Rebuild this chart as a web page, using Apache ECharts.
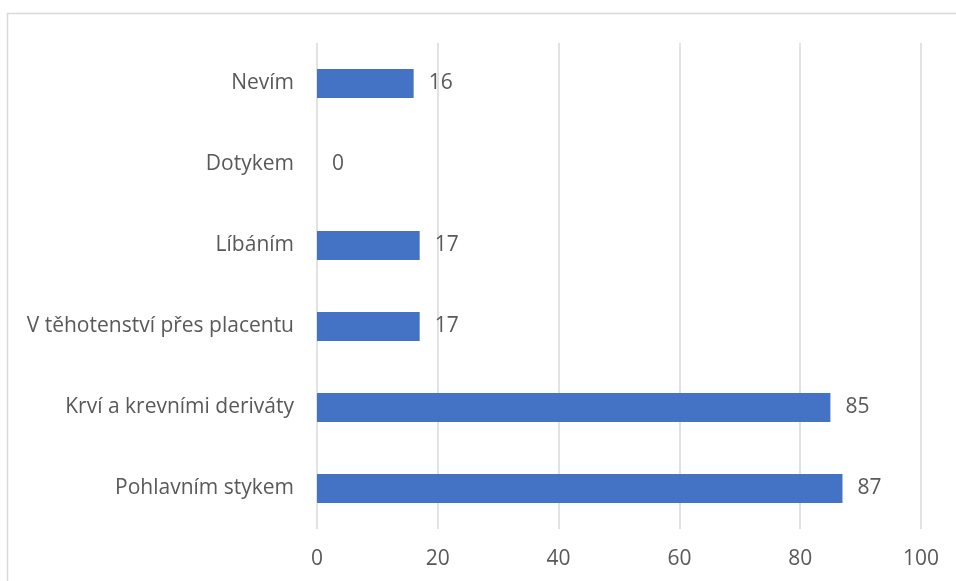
<!DOCTYPE html>
<html><head><meta charset="utf-8">
<script src="https://cdn.jsdelivr.net/npm/echarts@6/dist/echarts.min.js"></script>
<style>html,body{margin:0;padding:0;background:#fff}#c{width:956px;height:581px}</style>
</head><body><div id="c"></div>
<script>
const categories = ["Pohlavním stykem", "Krví a krevními deriváty", "V těhotenství přes placentu", "Líbáním", "Dotykem", "Nevím"];
const values = [87, 85, 17, 17, 0, 16];
const xTicks = [0, 20, 40, 60, 80, 100];

const font = "'Open Sans', 'Noto Sans', sans-serif";
const chart = echarts.init(document.getElementById('c'));
chart.setOption({
  animation: false,
  backgroundColor: '#fff',
  graphic: [{
    type: 'rect', shape: {x: 7.5, y: 13.5, width: 960, height: 600},
    style: {fill: 'none', stroke: '#D9D9D9', lineWidth: 1.5}, silent: true
  }],
  grid: {left: 317, right: 35, top: 43, bottom: 52, containLabel: false},
  xAxis: {
    type: 'value', min: xTicks[0], max: xTicks[xTicks.length-1], interval: 20,
    axisLine: {show: false}, axisTick: {show: false},
    splitLine: {lineStyle: {color: '#D9D9D9', width: 1.5}},
    axisLabel: {color: '#595959', fontSize: 21, fontFamily: font, margin: 20}
  },
  yAxis: {
    type: 'category', data: categories,
    axisLine: {show: false}, axisTick: {show: false},
    axisLabel: {color: '#595959', fontSize: 21, fontFamily: font, margin: 23}
  },
  series: [{
    type: 'bar', data: values, barWidth: 29,
    itemStyle: {color: '#4472C4'},
    label: {show: true, position: 'right', distance: 15, color: '#595959', fontSize: 21, fontFamily: font}
  }]
});
</script></body></html>
